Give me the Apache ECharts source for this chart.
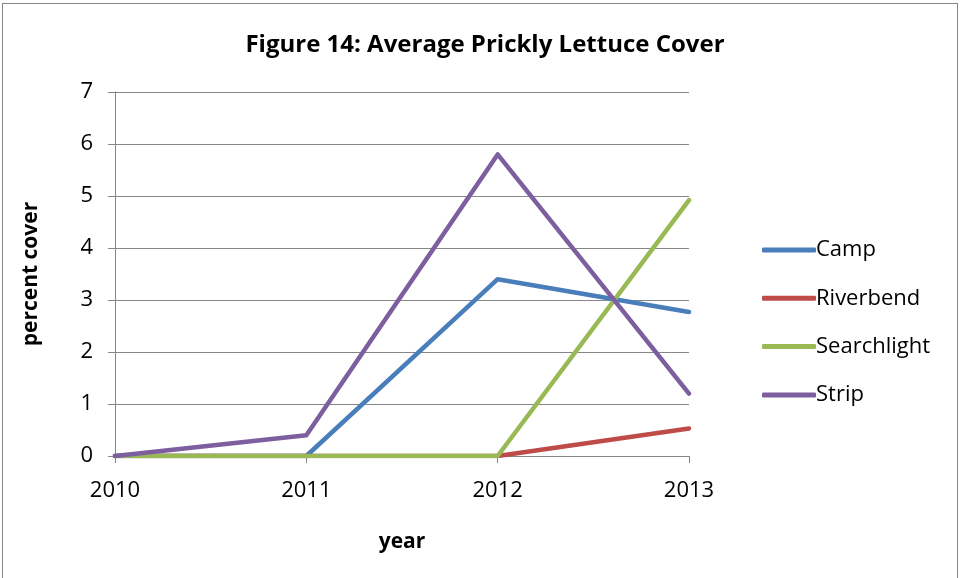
<!DOCTYPE html>
<html>
<head>
<meta charset="utf-8">
<script src="https://cdn.jsdelivr.net/npm/echarts@6/dist/echarts.min.js"></script>
<style>
  html, body { margin: 0; padding: 0; background: #fff; }
  #frame { position: absolute; left: 2px; top: 3px; width: 956px; height: 580px; border: 1px solid #868686; box-sizing: border-box; }
  #chart { position: absolute; left: 0; top: 0; width: 961px; height: 578px; }
</style>
</head>
<body>
<div id="frame"></div>
<div id="chart"></div>
<script>
// Survey years and average cover (%) per site
const years = ['2010', '2011', '2012', '2013'];
const camp = [0, 0, 3.4, 2.77];
const riverbend = [0, 0, 0, 0.53];
const searchlight = [0, 0, 0, 4.92];
const strip = [0, 0.4, 5.8, 1.2];

const seriesNames = ['Camp', 'Riverbend', 'Searchlight', 'Strip'];
const seriesData = [camp, riverbend, searchlight, strip];
const colors = ['#4a7ebb', '#be4b48', '#98b954', '#7d5fa0'];

const font = '"Open Sans", "Noto Sans", sans-serif';

const chart = echarts.init(document.getElementById('chart'), null, { renderer: 'canvas' });
chart.setOption({
  animation: false,
  title: {
    text: 'Figure 14: Average Prickly Lettuce Cover',
    left: 480, top: 28, textAlign: 'center',
    textStyle: { fontFamily: font, fontWeight: 'bold', fontSize: 24, color: '#000' }
  },
  legend: {
    orient: 'vertical',
    left: 757, top: 234,
    itemWidth: 54, itemHeight: 5, itemGap: 26.3,
    icon: 'roundRect',
    textStyle: { fontFamily: font, fontSize: 22, color: '#000', padding: [0, 0, 0, -5] },
    data: seriesNames
  },
  grid: { left: 115, right: 272, top: 92, bottom: 122 },
  xAxis: {
    type: 'category',
    data: years,
    boundaryGap: false,
    name: 'year', nameLocation: 'middle', nameGap: 76,
    nameTextStyle: { fontFamily: font, fontWeight: 'bold', fontSize: 21, color: '#000' },
    axisLine: { lineStyle: { color: '#868686', width: 1 } },
    axisTick: { show: true, length: 7, lineStyle: { color: '#868686' } },
    axisLabel: { fontFamily: font, fontSize: 22, color: '#000', margin: 24 },
    splitLine: { show: false }
  },
  yAxis: {
    type: 'value', min: 0, max: 7, interval: 1,
    name: 'percent cover', nameLocation: 'middle', nameGap: 73, nameRotate: 90,
    nameTextStyle: { fontFamily: font, fontWeight: 'bold', fontSize: 21, color: '#000' },
    axisLine: { show: true, lineStyle: { color: '#868686', width: 1 } },
    axisTick: { show: true, length: 7, lineStyle: { color: '#868686' } },
    axisLabel: { fontFamily: font, fontSize: 22, color: '#000', margin: 22 },
    splitLine: { show: true, lineStyle: { color: '#868686', width: 1 } }
  },
  series: seriesData.map((d, i) => ({
    name: seriesNames[i],
    type: 'line',
    data: d,
    symbol: 'none',
    color: colors[i],
    lineStyle: { width: 4.5, color: colors[i], cap: 'round', join: 'round' }
  }))
});
</script>
</body>
</html>
